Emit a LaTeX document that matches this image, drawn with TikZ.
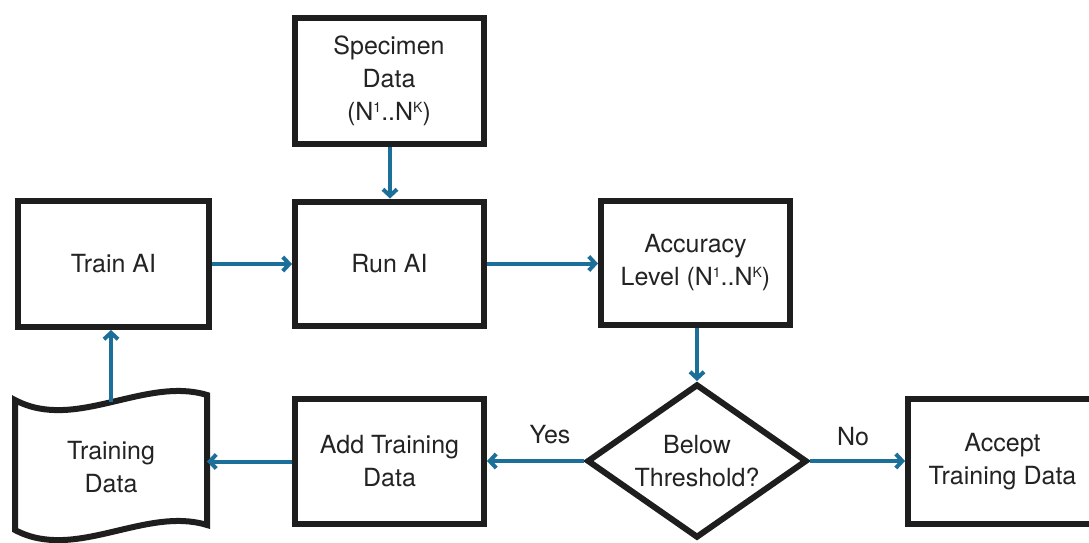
\documentclass[tikz,border=0pt]{standalone}
\usepackage{fontspec}
\setmainfont{TeX Gyre Heros}
\usetikzlibrary{shapes.geometric,arrows.meta}
\definecolor{flowblue}{RGB}{27,111,152}
\definecolor{boxline}{RGB}{30,30,30}
\definecolor{ink}{RGB}{35,35,35}
\newcommand{\supmark}[1]{\raisebox{0.33em}{\fontsize{14pt}{14pt}\selectfont #1}}
\begin{document}
\begin{tikzpicture}[x=1pt,y=-1pt,
  every node/.style={font=\fontsize{25pt}{33pt}\selectfont, text=ink, align=center},
  procbox/.style={draw=boxline, line width=6pt, rectangle, fill=white,
    minimum width=189pt, minimum height=124pt, inner sep=0pt},
  decision/.style={draw=boxline, line width=6pt, diamond, fill=white,
    minimum width=220pt, minimum height=154pt, aspect=1.43, inner sep=0pt},
  flow/.style={draw=flowblue, line width=4pt,
    -{Straight Barb[length=6.5pt,width=14pt]}},
  edgelabel/.style={}]
  % canvas
  \useasboundingbox (0,0) rectangle (1089,542);
  \clip (0,0) rectangle (1089,542);
  \fill[white] (0,0) rectangle (1089,542);

  % process boxes
  \node[procbox, minimum height=126pt] (spec) at (389,81)
    {Specimen\\Data\\(N\supmark{1}..N\supmark{K})};
  \node[procbox, minimum width=191pt, minimum height=126pt] (train) at (113.5,264) {Train AI};
  \node[procbox] (run) at (389.5,263.5) {Run AI};
  \node[procbox] (acc) at (695.5,263)
    {Accuracy\\Level (N\supmark{1}..N\supmark{K})};
  \node[decision] (dec) at (697,461) {Below\\Threshold?};
  \node[procbox, minimum height=125pt] (add) at (389.5,461.5) {Add Training\\Data};
  \node[procbox, minimum height=125pt] (accept) at (1002.5,461.5) {Accept\\Training Data};

  % document (wavy) shape for the training data
  \draw[boxline, line width=6pt, fill=white, line join=miter]
    (15,400) .. controls (75,432) and (145,376) .. (207,395)
    -- (207,525) .. controls (145,506) and (75,562) .. (15,530) -- cycle;
  \node[minimum width=192pt, minimum height=130pt, inner sep=0pt, outer sep=0pt]
    (doc) at (111,467) {Training\\Data};

  % connectors
  \draw[flow] (spec.south -| 390,0) -- (run.north -| 390,0);
  \draw[flow] (train.east) -- (train.east -| run.west);
  \draw[flow] (run.east) -- (run.east -| acc.west);
  \draw[flow] (dec.north |- acc.south) -- (dec.north);
  \draw[flow] (dec.west) -- (dec.west -| add.east);
  \draw[flow] (dec.east) -- (dec.east -| accept.west);
  \draw[flow] (add.west) -- (add.west -| doc.east);
  \draw[flow] (doc.north) -- (doc.north |- train.south);

  % branch labels
  \node[edgelabel] (yes) at (550,435) {Yes};
  \node[edgelabel] (no) at (853,437) {No};
\end{tikzpicture}
\end{document}
